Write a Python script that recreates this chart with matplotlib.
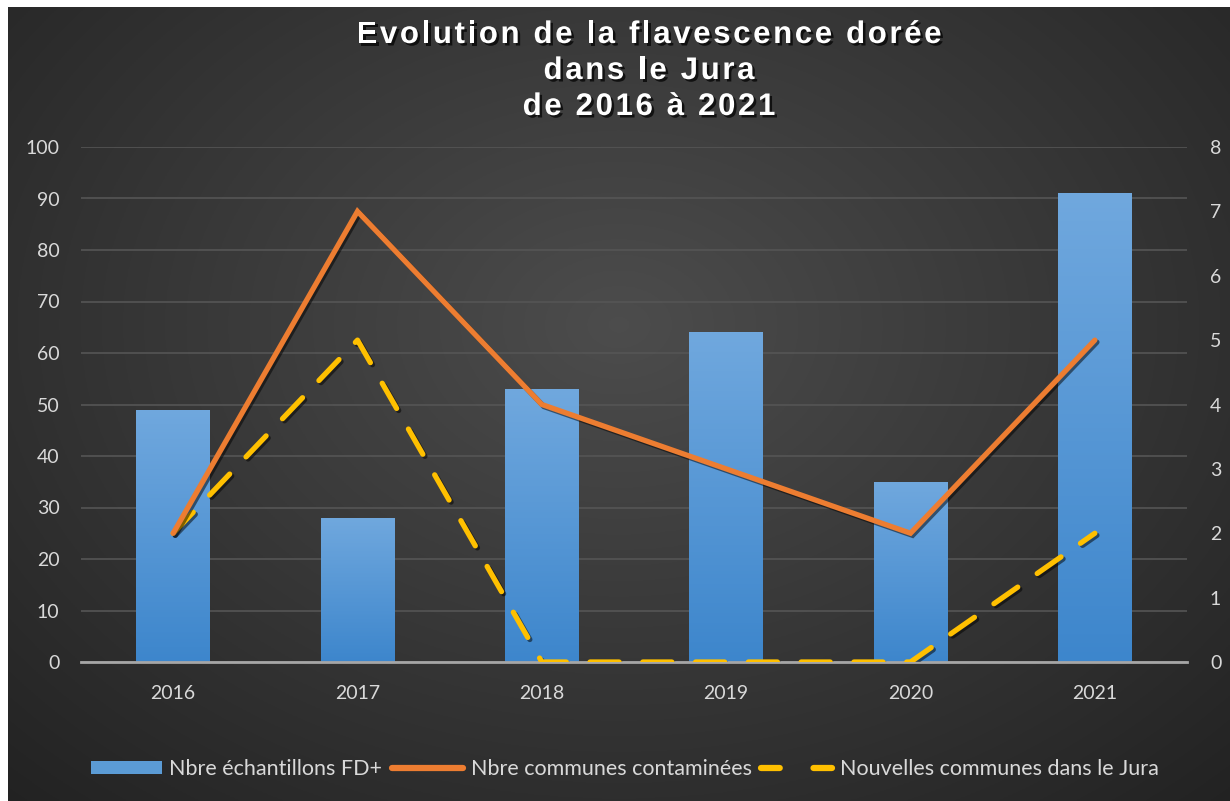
import numpy as np
import matplotlib
matplotlib.use("Agg")
import matplotlib.pyplot as plt
import matplotlib.patheffects as pe
from matplotlib.lines import Line2D
from matplotlib.patches import Patch
from matplotlib.textpath import TextToPath
from matplotlib.font_manager import FontProperties

# Data
years = ["2016", "2017", "2018", "2019", "2020", "2021"]
echantillons_fd = [49, 28, 53, 64, 35, 91]
communes_contaminees = [2, 7, 4, 3, 2, 5]
nouvelles_communes = [2, 5, 0, 0, 0, 2]

label_bars = "Nbre échantillons FD+"
label_orange = "Nbre communes contaminées"
label_yellow = "Nouvelles communes dans le Jura"
title_lines = ["Evolution de la flavescence dorée", "dans le Jura", "de 2016 à 2021"]

W, H, DPI = 1230, 801, 100
TICK_COLOR = "#d9d9d9"
GRID_COLOR = "#555555"
BLUE_TOP = np.array([0x70, 0xa8, 0xde]) / 255
BLUE_BOT = np.array([0x3d, 0x86, 0xcc]) / 255
ORANGE = "#ed7d31"
YELLOW = "#ffc000"

fig = plt.figure(figsize=(W / DPI, H / DPI), dpi=DPI, facecolor="white")

# dark radial-gradient background (white strip at top/left like the reference)
bg = fig.add_axes([8 / W, 0, 1 - 8 / W, 1 - 7 / H])
bg.set_axis_off()
yy, xx = np.mgrid[0:1:400j, 0:1:600j]
r = np.sqrt(((xx - 0.5) / 0.75) ** 2 + ((yy - 0.6) / 0.85) ** 2)
shade = np.clip(0.30 - 0.17 * r, 0.13, 0.30)
bg.imshow(np.dstack([shade, shade, shade]), extent=[0, 1, 0, 1], aspect="auto", origin="lower")
bg.set_xlim(0, 1)
bg.set_ylim(0, 1)

ax = fig.add_axes([81 / W, 1 - 662 / H, (1187 - 81) / W, (662 - 147) / H])
ax.patch.set_alpha(0)
x = np.arange(len(years))

bars = ax.bar(x, echantillons_fd, width=0.4, color="none", edgecolor="none", zorder=2)
grad = np.linspace(0, 1, 256)[:, None, None]
grad_img = BLUE_BOT[None, None, :] * (1 - grad) + BLUE_TOP[None, None, :] * grad
for b in bars:
    im = ax.imshow(grad_img, extent=[b.get_x(), b.get_x() + b.get_width(), 0, b.get_height()],
                   origin="lower", aspect="auto", zorder=2)
    im.set_clip_path(b)

ax.set_xlim(-0.5, len(years) - 0.5)
ax.set_ylim(0, 100)
ax.set_yticks(range(0, 101, 10))
ax.set_xticks(x)
ax.set_xticklabels(years)
ax.grid(axis="y", color=GRID_COLOR, linewidth=1.2, zorder=0)
ax.set_axisbelow(True)
for s in ["top", "right", "left"]:
    ax.spines[s].set_visible(False)
ax.spines["bottom"].set_color("#a6a6a6")
ax.spines["bottom"].set_linewidth(2)
ax.spines["bottom"].set_zorder(3)
ax.tick_params(axis="both", length=0, colors=TICK_COLOR, labelsize=14)
ax.tick_params(axis="y", pad=15.5)
ax.tick_params(axis="x", pad=16.5)

ax2 = ax.twinx()
ax2.patch.set_alpha(0)
ax2.set_ylim(0, 8)
ax2.set_yticks(range(0, 9))
for s in ax2.spines.values():
    s.set_visible(False)
ax2.tick_params(axis="y", length=0, colors=TICK_COLOR, labelsize=14, pad=16.5)

shadow = [pe.SimpleLineShadow(offset=(1.5, -1.5), shadow_color="black", alpha=0.5), pe.Normal()]
ax2.plot(x, communes_contaminees, color=ORANGE, linewidth=3.8, solid_capstyle="round",
         solid_joinstyle="miter", path_effects=shadow, zorder=4)
ax2.plot(x, nouvelles_communes, color=YELLOW, linewidth=3.8, dashes=(5.5, 4.5),
         dash_capstyle="round", path_effects=shadow, zorder=3)

for lab in ax.get_xticklabels() + ax.get_yticklabels() + ax2.get_yticklabels():
    lab.set_family("Lato")

# title: bold with letter spacing, drawn char by char
title_prop = FontProperties(family="Liberation Sans", weight="bold", size=22.5)
ttp = TextToPath()
spacing_px = 2.6
title_cx = 649


def adv(c):
    # advance width of one char in pixels
    if c == " ":
        w1 = ttp.get_text_width_height_descent("a a", title_prop, ismath=False)[0]
        w2 = ttp.get_text_width_height_descent("aa", title_prop, ismath=False)[0]
        w = w1 - w2
    else:
        w = ttp.get_text_width_height_descent(c, title_prop, ismath=False)[0]
    return w * DPI / 72


title_shadow = [pe.withSimplePatchShadow(offset=(1.8, -1.8), shadow_rgbFace="black", alpha=0.7)]
for line, base in zip(title_lines, [43, 79, 115]):
    widths = [adv(c) for c in line]
    total = sum(widths) + spacing_px * (len(line) - 1)
    cx = title_cx - total / 2
    for c, w in zip(line, widths):
        if c != " ":
            fig.text(cx / W, 1 - base / H, c, ha="left", va="baseline", color="white",
                     fontproperties=title_prop, path_effects=title_shadow)
        cx += w + spacing_px

handles = [
    Patch(facecolor="#5b9bd5", edgecolor="none"),
    Line2D([0], [0], color=ORANGE, linewidth=4.5, solid_capstyle="round"),
    Line2D([0], [0], color=YELLOW, linewidth=4.5, dashes=(3.0, 5.4), dash_capstyle="round"),
]
leg = fig.legend(handles, [label_bars, label_orange, label_yellow], loc="center",
                 bbox_to_anchor=(0.508, 1 - 769 / H), ncol=3, frameon=False,
                 handlelength=3.3, handleheight=0.6, handletextpad=0.35,
                 columnspacing=0.45, prop={"family": "Lato", "size": 15.5})
for t in leg.get_texts():
    t.set_color(TICK_COLOR)

fig.savefig("out.png", dpi=DPI, facecolor=fig.get_facecolor())
